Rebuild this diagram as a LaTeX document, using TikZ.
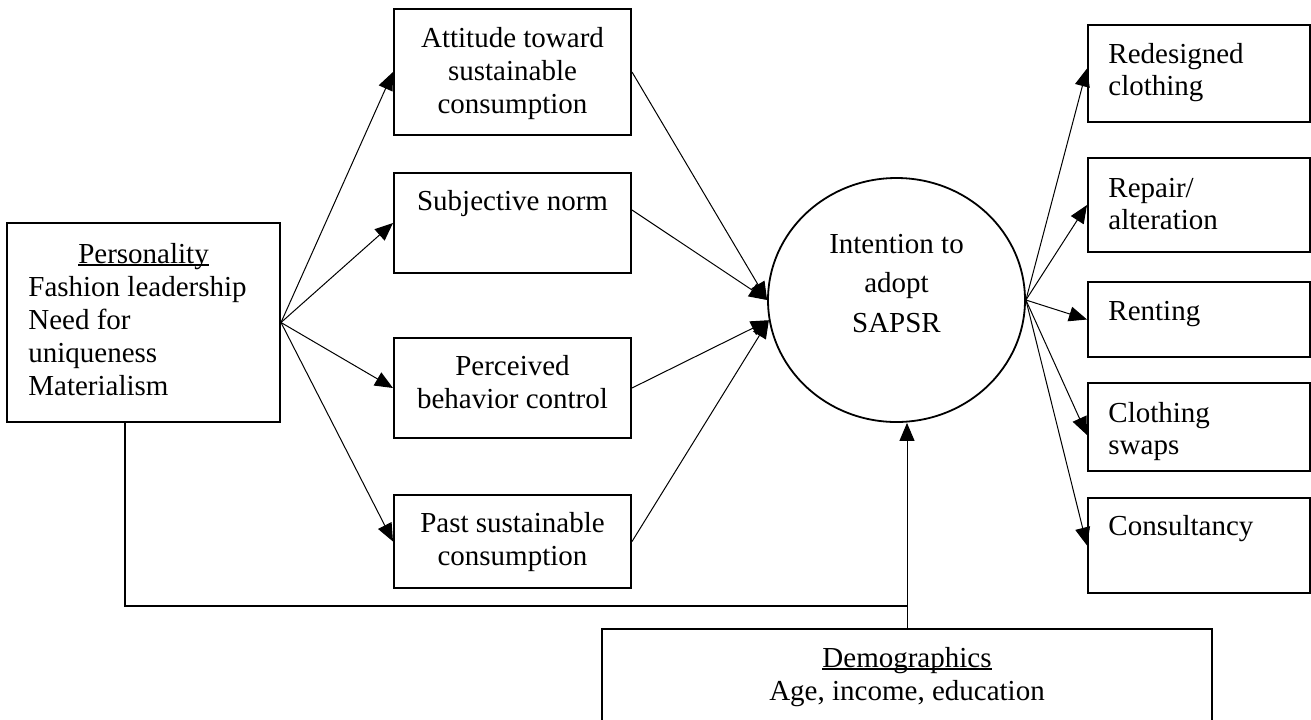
\documentclass[tikz,border=0pt]{standalone}
\usepackage{fontspec}
\setmainfont{Liberation Serif}
\usetikzlibrary{arrows.meta,shapes.geometric}
% underline sitting just below the baseline (descenders cross it)
\newcommand\uln[1]{\setbox0\hbox{#1}\rlap{\rule[-1.3pt]{\wd0}{0.7pt}}\box0}
\renewcommand\arraystretch{1}
\begin{document}
\begin{tikzpicture}[x=0.5pt,y=-0.5pt,
  box/.style={draw, line width=1pt, rectangle, inner sep=0pt},
  txt/.style={inner sep=0pt, anchor=base, font=\fontsize{14.5}{16.5}\selectfont},
  ctxt/.style={txt, font=\fontsize{14.5}{19.75}\selectfont},
  rtxt/.style={inner sep=0pt, anchor=base west, font=\fontsize{14.5}{16}\selectfont},
  ltxt/.style={txt, anchor=base west},
  arr/.style={draw, line width=0.5pt, -{Triangle[length=9pt,width=7.5pt]}}]
\clip (0,0) rectangle (1311,719);

% ---- boxes ----
\node[box, minimum width=136.5pt, minimum height=99.5pt] (pers) at (143.5,322.5) {};
\node[box, minimum width=118.5pt, minimum height=63pt]   (att)  at (512.5,72) {};
\node[box, minimum width=118.5pt, minimum height=50pt]   (subj) at (512.5,223) {};
\node[box, minimum width=118.5pt, minimum height=50pt]   (perc) at (512.5,388) {};
\node[box, minimum width=118.5pt, minimum height=46.5pt] (past) at (512.5,541.5) {};
\node[draw, ellipse, line width=0.9pt, inner sep=0pt,
      minimum width=128.5pt, minimum height=122pt] (int) at (896.5,300) {};
\node[box, minimum width=111pt, minimum height=48.5pt] (redes) at (1199,73.5) {};
\node[box, minimum width=111pt, minimum height=47pt]   (rep)   at (1199,205) {};
\node[box, minimum width=111pt, minimum height=37.5pt] (rent)  at (1199,319.5) {};
\node[box, minimum width=111pt, minimum height=44pt]   (swap)  at (1199,427) {};
\node[box, minimum width=111pt, minimum height=47.5pt] (cons)  at (1199,545.5) {};
\node[box, minimum width=305pt, minimum height=65.5pt] (demo)  at (907,694.5) {};

% ---- texts ----
\node[txt]  (perst) at (143.5,263) {\uln{Personality}};
\node[ltxt] (persl) at (28,296) {\begin{tabular}[t]{@{}l@{}}Fashion leadership\\Need for\\uniqueness\\Materialism\end{tabular}};
\node[txt] (attt)  at (512.5,47)  {\begin{tabular}[t]{@{}c@{}}Attitude toward\\sustainable\\consumption\end{tabular}};
\node[txt] (subjt) at (512.5,210) {Subjective norm};
\node[txt] (perct) at (512.5,375) {\begin{tabular}[t]{@{}c@{}}Perceived\\behavior control\end{tabular}};
\node[txt] (pastt) at (512.5,532) {\begin{tabular}[t]{@{}c@{}}Past sustainable\\consumption\end{tabular}};
\node[ctxt] (intt) at (896.5,253) {\begin{tabular}[t]{@{}c@{}}Intention to\\adopt\\SAPSR\end{tabular}};
\node[rtxt] (redest) at (1108,63)  {\begin{tabular}[t]{@{}l@{}}Redesigned\\clothing\end{tabular}};
\node[rtxt] (rept)   at (1108,197) {\begin{tabular}[t]{@{}l@{}}Repair/\\alteration\end{tabular}};
\node[rtxt] (rentt)  at (1108,320) {Renting};
\node[rtxt] (swapt)  at (1108,422) {\begin{tabular}[t]{@{}l@{}}Clothing\\swaps\end{tabular}};
\node[rtxt] (const)  at (1108,535) {Consultancy};
\node[txt]  (demot)  at (907,667)  {\begin{tabular}[t]{@{}c@{}}\uln{Demographics}\\Age, income, education\end{tabular}};

% ---- connectors ----
\draw[arr] (pers.east) -- (att.west);
\draw[arr] (pers.east) -- (subj.west);
\draw[arr] (pers.east) -- (perc.west);
\draw[arr] (pers.east) -- (past.west);

\draw[arr] (att.east) -- (int.west);
\draw[arr] ([yshift=6.5pt]subj.east) -- (int.west);
\draw[arr] (perc.east) -- (int.189);
\draw[arr] (past.east) -- (int.189);

\draw[arr] (int.east) -- ([yshift=2.5pt]redes.west);
\draw[arr] (int.east) -- (rep.west);
\draw[arr] (int.east) -- (rent.west);
\draw[arr] (int.east) -- ([yshift=-4pt]swap.west);
\draw[arr] (int.east) -- (cons.west);

\coordinate (join) at (907,606);
\draw[line width=0.9pt] ([xshift=-9.25pt]pers.south) |- (join);
\draw[arr] (demo.north) -- (int.south -| demo.north);
\end{tikzpicture}
\end{document}
